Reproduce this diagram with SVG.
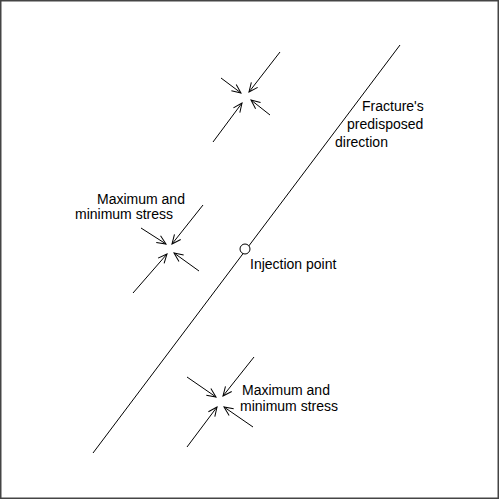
<svg xmlns="http://www.w3.org/2000/svg" width="500" height="500" viewBox="0 0 500 500">
<defs>
<marker id="ah" markerWidth="12" markerHeight="10" refX="10" refY="5" orient="auto" markerUnits="userSpaceOnUse">
<path d="M1,1 L10,5 L1,9" fill="none" stroke="#000" stroke-width="1"/>
</marker>
</defs>
<style>
.ln{stroke:#000;stroke-width:1;fill:none}
.ar{stroke:#000;stroke-width:1;fill:none;marker-end:url(#ah)}
text{font-family:"Liberation Sans",Arial,sans-serif;font-size:14px;fill:#000}
</style>
<rect x="0" y="0" width="500" height="500" fill="#fff"/>
<rect x="0.75" y="0.75" width="497.5" height="497.5" fill="none" stroke="#444" stroke-width="1.5"/>
<g id="fracture-line">
<line class="ln" x1="400" y1="45" x2="93" y2="453"/>
</g>
<g id="injection-point">
<circle cx="245" cy="249" r="5" fill="#fff" stroke="#000" stroke-width="1"/>
<text x="250" y="269">Injection point</text>
</g>
<g id="fracture-label">
<text x="362" y="111">Fracture's</text>
<text x="347" y="129">predisposed</text>
<text x="335" y="147">direction</text>
</g>
<g id="connectors">
<line class="ar" x1="280" y1="52" x2="249" y2="92"/>
<line class="ar" x1="221" y1="78" x2="241" y2="93"/>
<line class="ar" x1="213" y1="142" x2="242" y2="103"/>
<line class="ar" x1="270" y1="115" x2="251" y2="100"/>
<line class="ar" x1="203" y1="205" x2="172" y2="244"/>
<line class="ar" x1="141" y1="228" x2="166" y2="244"/>
<line class="ar" x1="133" y1="293" x2="167" y2="254"/>
<line class="ar" x1="199" y1="271" x2="174" y2="253"/>
<line class="ar" x1="254" y1="357" x2="223" y2="396"/>
<line class="ar" x1="187" y1="377" x2="216" y2="397"/>
<line class="ar" x1="187" y1="447" x2="217" y2="407"/>
<line class="ar" x1="253" y1="427" x2="224" y2="407"/>
</g>
<g id="stress-label-middle">
<text x="97" y="204">Maximum and</text>
<text x="75" y="219">minimum stress</text>
</g>
<g id="stress-label-bottom">
<text x="242" y="395">Maximum and</text>
<text x="240" y="411">minimum stress</text>
</g>
</svg>
